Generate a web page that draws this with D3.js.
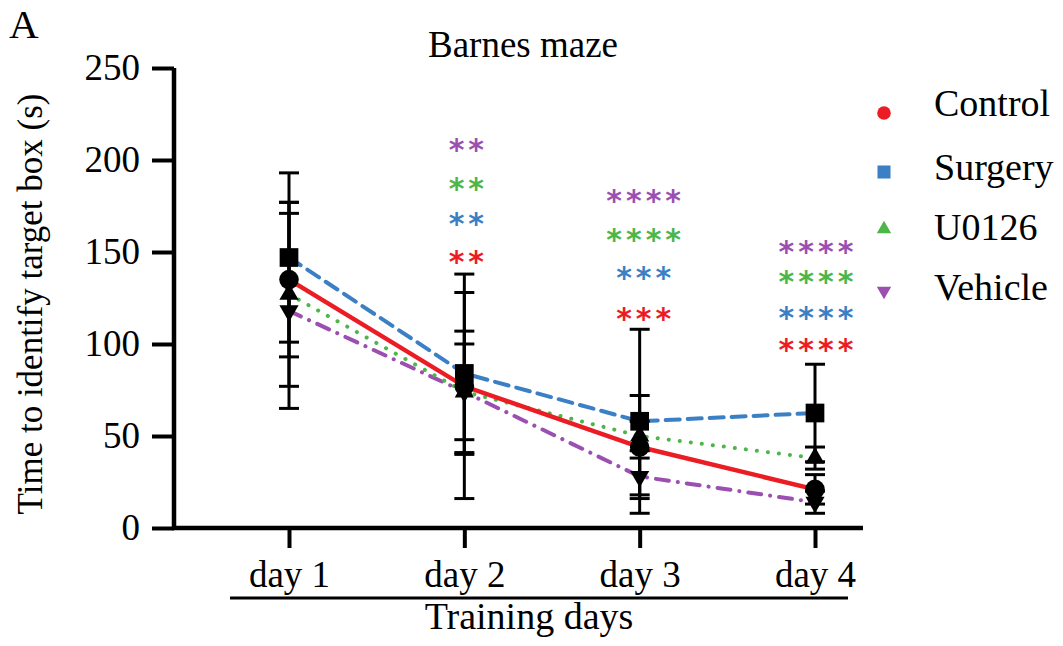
<!DOCTYPE html>
<html>
<head>
<meta charset="utf-8">
<script src="https://cdn.jsdelivr.net/npm/d3@7"></script>
<style>
  body { margin: 0; background: #fff; }
  text { font-family: "Liberation Serif", "Times New Roman", serif; fill: #000; }
</style>
</head>
<body>
<script>
// chart data
var days = ["day 1", "day 2", "day 3", "day 4"];
var groups = ["Control", "Surgery", "U0126", "Vehicle"];
var controlMean = [135, 77, 44, 21];
var controlErr  = [42, 61, 28, 8];
var surgeryMean = [147, 84, 58, 62.5];
var surgeryErr  = [46, 44, 50, 26.5];
var u0126Mean   = [127, 74, 50, 38];
var u0126Err    = [50, 33, 8, 6];
var vehicleMean = [118, 74, 28, 14];
var vehicleErr  = [53, 26, 10, 6];
var yTicks = [0, 50, 100, 150, 200, 250];
// significance stars per day (top to bottom: Vehicle, U0126, Surgery, Control)
var starsDay2 = ["**", "**", "**", "**"];
var starsDay3 = ["****", "****", "***", "***"];
var starsDay4 = ["****", "****", "****", "****"];

var width = 1063, height = 646;
var colors = { Control: "#ec1c24", Surgery: "#3b7fc4", U0126: "#4db649", Vehicle: "#9b4fb1" };

var series = [
  { name: "Control", mean: controlMean, err: controlErr, symbol: d3.symbolCircle, size: 300, dash: null },
  { name: "Surgery", mean: surgeryMean, err: surgeryErr, symbol: d3.symbolSquare, size: 350, dash: "14,8" },
  { name: "U0126",   mean: u0126Mean,   err: u0126Err,   symbol: d3.symbolTriangle, size: 160, dash: "0.1,11" },
  { name: "Vehicle", mean: vehicleMean, err: vehicleErr, symbol: d3.symbolTriangle, size: 160, dash: "13,9,0.1,9", flip: true }
];

var svg = d3.select("body").append("svg")
  .attr("width", width)
  .attr("height", height);

var x = d3.scalePoint().domain(days).range([289, 815]);
var y = d3.scaleLinear().domain([0, 250]).range([528, 68]);

// y axis
var yAxis = svg.append("g")
  .attr("transform", "translate(174,0)")
  .call(d3.axisLeft(y).tickValues(yTicks).tickSize(22).tickPadding(12));
yAxis.select(".domain").attr("stroke-width", 4.5).attr("d", "M0,68V528");
yAxis.selectAll(".tick line").attr("stroke-width", 4);
yAxis.selectAll(".tick text")
  .style("font-family", "Liberation Serif")
  .style("font-size", "37px");

// x axis
var xAxis = svg.append("g")
  .attr("transform", "translate(0,528)")
  .call(d3.axisBottom(x).tickSize(20).tickPadding(13));
xAxis.select(".domain").attr("stroke-width", 4.5).attr("d", "M172,0H863");
xAxis.selectAll(".tick line").attr("stroke-width", 4);
xAxis.selectAll(".tick text")
  .style("font-family", "Liberation Serif")
  .style("font-size", "37px");

// underline + x title
svg.append("line")
  .attr("x1", 230).attr("x2", 848).attr("y1", 598).attr("y2", 598)
  .attr("stroke", "#000").attr("stroke-width", 3);
svg.append("text")
  .attr("x", 529).attr("y", 629)
  .attr("text-anchor", "middle")
  .style("font-size", "38px")
  .text("Training days");

// y title
svg.append("text")
  .attr("transform", "translate(42,304) rotate(-90)")
  .attr("text-anchor", "middle")
  .style("font-size", "35px")
  .text("Time to identify target box (s)");

// title and panel letter
svg.append("text")
  .attr("x", 523).attr("y", 57)
  .attr("text-anchor", "middle")
  .style("font-size", "37px")
  .text("Barnes maze");
svg.append("text")
  .attr("x", 9).attr("y", 38)
  .style("font-size", "41px")
  .text("A");

// lines
var line = d3.line()
  .x(function(d, i) { return x(days[i]); })
  .y(function(d) { return y(d); });

series.slice().reverse().forEach(function(s) {
  svg.append("path")
    .attr("d", line(s.mean))
    .attr("fill", "none")
    .attr("stroke", colors[s.name])
    .attr("stroke-width", s.name == "Control" ? 4.5 : 4)
    .attr("stroke-linecap", s.dash ? "round" : "butt")
    .attr("stroke-dasharray", s.dash);
});

// error bars
series.forEach(function(s) {
  var g = svg.append("g").attr("stroke", "#000").attr("stroke-width", 3);
  s.mean.forEach(function(m, i) {
    var cx = x(days[i]);
    g.append("line").attr("x1", cx).attr("x2", cx)
      .attr("y1", y(m + s.err[i])).attr("y2", y(Math.max(0, m - s.err[i])));
    [m + s.err[i], m - s.err[i]].forEach(function(v) {
      g.append("line").attr("x1", cx - 10).attr("x2", cx + 10)
        .attr("y1", y(v)).attr("y2", y(v));
    });
  });
});

// markers
series.forEach(function(s) {
  var sym = d3.symbol().type(s.symbol).size(s.size);
  svg.selectAll(null)
    .data(s.mean)
    .enter()
    .append("path")
    .attr("d", sym)
    .attr("fill", "#000")
    .attr("transform", function(d, i) {
      return "translate(" + x(days[i]) + "," + y(d) + ")" + (s.flip ? " rotate(180)" : "");
    });
});

// significance stars
var starOrder = ["Vehicle", "U0126", "Surgery", "Control"];
var starRows = [
  { day: "day 2", stars: starsDay2, ys: [144, 183, 218, 256], dx: 4 },
  { day: "day 3", stars: starsDay3, ys: [195, 234, 272, 313], dx: 6 },
  { day: "day 4", stars: starsDay4, ys: [246, 276, 312, 344], dx: 3 }
];
starRows.forEach(function(r) {
  r.stars.forEach(function(st, k) {
    svg.append("text")
      .attr("x", x(r.day) + r.dx)
      .attr("y", r.ys[k] + 16)
      .attr("text-anchor", "middle")
      .style("font-family", "DejaVu Sans")
      .style("font-weight", "bold")
      .style("font-size", "30px")
      .style("letter-spacing", "4px")
      .style("fill", colors[starOrder[k]])
      .text(st);
  });
});

// legend
var legend = svg.append("g");
var legendY = [113, 172, 229, 291];
var legendBase = [116, 180, 240, 300];
groups.forEach(function(name, i) {
  var s = series[i];
  legend.append("path")
    .attr("d", d3.symbol().type(s.symbol).size(s.symbol == d3.symbolSquare ? 170 : (s.symbol == d3.symbolCircle ? 145 : 90))())
    .attr("fill", colors[name])
    .attr("transform", "translate(884," + legendY[i] + ")" + (s.flip ? " rotate(180)" : ""));
  legend.append("text")
    .attr("x", 934).attr("y", legendBase[i])
    .style("font-size", "38px")
    .text(name);
});
</script>
</body>
</html>
